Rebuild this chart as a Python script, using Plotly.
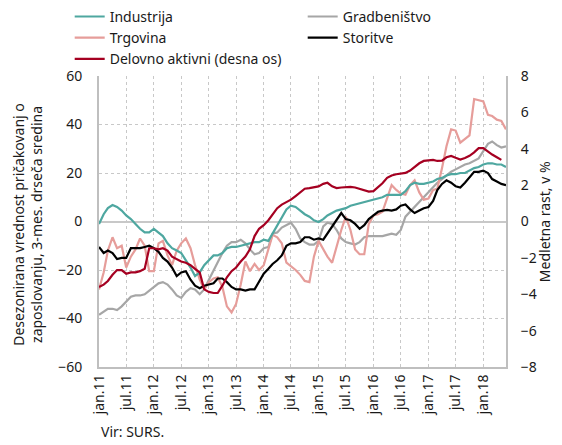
import pandas as pd
import plotly.graph_objects as go

months = pd.date_range("2011-01-01", "2018-06-01", freq="MS")
tick_dates = pd.date_range("2011-01-01", "2018-01-01", freq="6MS")
tick_labels = ["jan.11", "jul.11", "jan.12", "jul.12", "jan.13", "jul.13", "jan.14",
               "jul.14", "jan.15", "jul.15", "jan.16", "jul.16", "jan.17", "jul.17", "jan.18"]

industrija = [-1, 3, 5.5, 6.8, 6, 4.5, 2.5, 1, -1, -3, -4.5, -4.5, -3, -4.5, -6, -9, -11, -12,
              -13, -16, -19, -22.5, -21, -18, -16, -14, -14, -13, -11, -10.5, -10.5, -10, -9.5,
              -9, -8.5, -8.5, -7.5, -8, -5, -1.5, 2, 5, 6.5, 6, 4.5, 3, 2, 0.5, -0.2, 1, 2.5,
              3.5, 4.5, 5, 5.5, 6.5, 7, 7.5, 8, 8.5, 9, 9.5, 10, 11, 11, 11, 11, 12.5, 15, 16,
              15.5, 15.5, 16, 16.5, 17.5, 18, 19, 19.5, 19.5, 20, 20, 21, 22, 22.5, 23.5, 24,
              24, 23.5, 23.5, 22.5]
trgovina = [-28, -21, -12, -6.5, -11, -10, -19, -14.5, -11.5, -7, -10, -20.5, -20.5, -9, -8,
            -14, -18, -12, -9, -7, -11, -18, -24, -28, -25, -23.5, -23, -27, -35, -37.5, -34,
            -26, -16.5, -20.5, -17.5, -20, -18, -11, -5.5, -6.5, -9, -17, -18.5, -20, -22,
            -24.5, -25, -14.5, -8, -11.5, -14.5, -17, -10, -3.5, 2, -3.5, -11.5, -13.5, -13.5,
            -1, 2.5, 3, 4, 10, 15, 13, 11.5, 11, 15, 17, 12, 9, 9.5, 13, 13.5, 22, 31, 38,
            37.5, 32.5, 34, 35.5, 50.5, 50, 49.5, 44, 43.5, 42, 41.5, 38]
gradbenistvo = [-38.5, -37, -36, -36, -36.5, -35, -33, -31, -30.5, -30.5, -30, -28.5, -27,
                -25.5, -25, -26, -28, -30.5, -31.5, -29, -27.5, -28, -30, -28, -24, -20, -16.5,
                -13, -10, -8.5, -8.5, -7.5, -9, -11.5, -13.5, -13, -11, -10.5, -5, -4.5, -2.5,
                -1.5, -0.5, -3, -7, -8.5, -9.5, -9.5, -8, -2, -0.5, -1, -3.5, -7, -8.5, -9,
                -9.5, -8.5, -6.5, -6, -6, -6, -6, -5.5, -5, -5.5, -3.5, 2, 4, 6, 8, 10, 12, 14,
                16, 17.5, 19, 20.5, 21.5, 22.5, 23.5, 24, 25, 26, 29, 32, 33, 31.5, 30.5, 31]
storitve = [-10.5, -13, -12, -13, -15.5, -15, -15, -11, -11, -11, -10.5, -10, -11, -12.5, -15,
            -16.5, -19, -22.5, -21, -20.5, -24, -26.5, -27.5, -26.5, -26, -25.5, -23.5, -23.5,
            -25, -27, -28, -28, -28.5, -28, -28, -24.5, -21.5, -19.5, -17.5, -16, -14, -10, -9,
            -9, -8.5, -6.5, -6.5, -7.5, -7, -7.5, -5, -2, 0.5, 3.5, 1, 0.5, -1, -3, -1.5, 1,
            2.5, 4, 4.5, 4.8, 4.5, 5, 6.5, 7, 5, 3.5, 4.5, 5.5, 6, 8.5, 13, 15.5, 17, 16, 14.5,
            14, 16, 18, 20.5, 20.5, 21, 20, 17.5, 16.5, 15.5, 15]
delovno_aktivni = [-3.6, -3.47, -3.27, -2.93, -2.67, -2.67, -2.87, -2.8, -2.8, -2.73, -2.6,
                   -1.47, -1.47, -1.53, -1.47, -1.6, -1.93, -2.07, -2.2, -2.27, -2.4, -2.6,
                   -2.8, -3.73, -3.87, -3.93, -3.93, -3.53, -3.07, -2.73, -2.53, -2.2, -1.93,
                   -1.53, -0.8, -0.4, -0.2, 0.07, 0.4, 0.73, 0.93, 1.07, 1.2, 1.4, 1.6, 1.8,
                   1.84, 1.87, 1.93, 2.07, 2.13, 1.93, 1.84, 1.87, 1.9, 1.9, 1.87, 1.8, 1.7,
                   1.64, 1.67, 1.87, 2.1, 2.4, 2.53, 2.6, 2.64, 2.67, 2.8, 3.0, 3.2, 3.33, 3.37,
                   3.39, 3.33, 3.35, 3.53, 3.6, 3.5, 3.41, 3.49, 3.61, 3.8, 4.03, 4.03, 3.84,
                   3.68, 3.53, 3.39]

FONT = "Noto Sans"
fig = go.Figure()

def add(name, y, color, rank, axis="y"):
    fig.add_trace(go.Scatter(x=months[:len(y)], y=y, name=name, mode="lines",
                             line=dict(color=color, width=2.2), yaxis=axis,
                             legendrank=rank))

add("Gradbeništvo", gradbenistvo, "#a6a6a6", 2)
add("Trgovina", trgovina, "#e69d9a", 3)
add("Industrija", industrija, "#4ea7a0", 1)
add("Delovno aktivni (desna os)", delovno_aktivni, "#a50021", 5, "y2")
add("Storitve", storitve, "#000000", 4)

fig.update_layout(
    width=562, height=445,
    margin=dict(l=99, r=56, t=76, b=78, autoexpand=False),
    paper_bgcolor="white", plot_bgcolor="white",
    font=dict(family=FONT, size=14, color="#1a1a1a"),
    showlegend=True,
    legend=dict(orientation="h", xref="paper", yref="paper",
                x=-0.072, y=1.258, xanchor="left", yanchor="top",
                entrywidth=188, entrywidthmode="pixels",
                font=dict(size=14), itemwidth=30, tracegroupgap=0,
                bgcolor="rgba(0,0,0,0)"),
    xaxis=dict(range=[months[0], months[-1]], tickvals=tick_dates, ticktext=tick_labels,
               tickangle=-90, showgrid=True, gridcolor="#c8c8c8", griddash="dot",
               gridwidth=1, showline=True, linecolor="#bfbfbf", linewidth=2,
               ticks="", zeroline=False, tickfont=dict(size=14)),
    yaxis=dict(range=[-60, 60], tickvals=[-60, -40, -20, 0, 20, 40, 60],
               showgrid=True, gridcolor="#c8c8c8", griddash="dot", gridwidth=1,
               zeroline=True, zerolinecolor="#c8c8c8", zerolinewidth=2,
               showline=True, linecolor="#bfbfbf", linewidth=2,
               ticks="", ticklabelstandoff=12, tickfont=dict(size=14)),
    yaxis2=dict(range=[-8, 8], tickvals=[-8, -6, -4, -2, 0, 2, 4, 6, 8],
                overlaying="y", side="right", showgrid=False, zeroline=False,
                showline=True, linecolor="#bfbfbf", linewidth=2,
                ticks="", ticklabelstandoff=10, tickfont=dict(size=14)),
    annotations=[
        dict(text="Desezonirana vrednost pričakovanj o<br>zaposlovanju, 3-mes. drseča sredina",
             xref="paper", yref="paper", x=-0.176, y=0.49, xanchor="center", yanchor="middle",
             textangle=-90, showarrow=False, font=dict(size=14)),
        dict(text="Medletna rast, v %", xref="paper", yref="paper", x=1.095, y=0.5,
             xanchor="center", yanchor="middle", textangle=-90, showarrow=False,
             font=dict(size=14)),
        dict(text="Vir: SURS.", xref="paper", yref="paper", x=0.0, y=-0.223,
             xanchor="left", yanchor="middle", showarrow=False, font=dict(size=14)),
    ],
)

fig.write_html("out.html", config={"displayModeBar": False},
               post_script="document.body.style.margin='0';document.body.style.padding='0';")
